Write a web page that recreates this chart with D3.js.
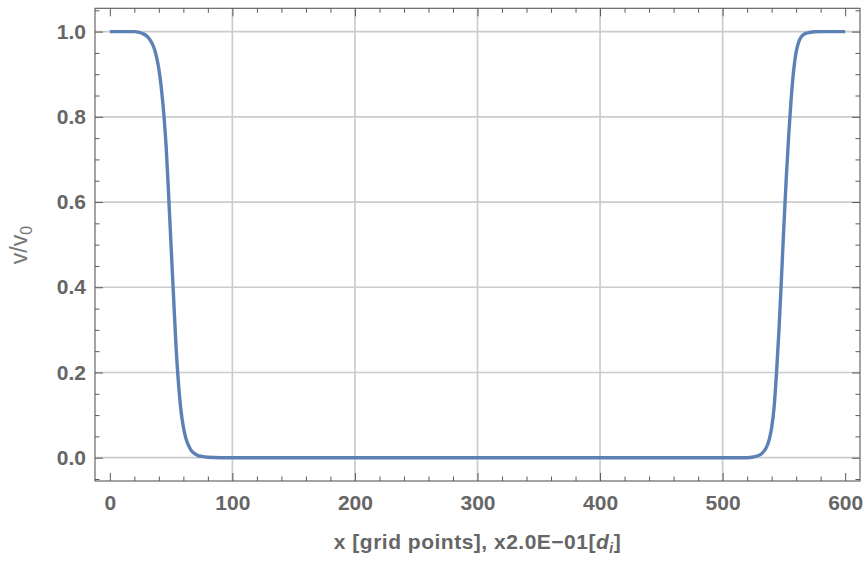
<!DOCTYPE html>
<html><head><meta charset="utf-8">
<script src="https://cdn.jsdelivr.net/npm/d3@7"></script>
<style>body{margin:0;background:#fff}svg{display:block}</style>
</head><body>
<script>
// Data
const xValues = [0,10,20,24,27,30,32,34,36,38,40,42,44,46,48,50,52,54,56,58,60,62,64,66,68,70,72,75,80,90,100,200,300,400,500,515,520,524,527,530,532,534,536,538,540,542,544,546,548,550,552,554,556,558,560,562,564,566,568,571,575,580,590,600];
const vValues = [1,1,1,0.998,0.995,0.99,0.984,0.975,0.962,0.942,0.912,0.868,0.808,0.728,0.615,0.495,0.378,0.262,0.175,0.112,0.072,0.046,0.030,0.019,0.012,0.008,0.005,0.003,0.001,0,0,0,0,0,0,0,0,0.001,0.003,0.006,0.010,0.016,0.026,0.042,0.070,0.118,0.200,0.300,0.420,0.545,0.660,0.760,0.845,0.910,0.952,0.975,0.987,0.993,0.996,0.998,0.9995,1,1,1];
const xMajorTicks = [0,100,200,300,400,500,600];
const xMinorTicks = [20,40,60,80,120,140,160,180,220,240,260,280,320,340,360,380,420,440,460,480,520,540,560,580];
const xGrid = [100,200,300,400,500];
const yMajorTicks = [0,0.2,0.4,0.6,0.8,1.0];
const yMinorTicks = [-0.05,0.05,0.1,0.15,0.25,0.3,0.35,0.45,0.5,0.55,0.65,0.7,0.75,0.85,0.9,0.95,1.05];
const yGrid = [0,0.2,0.4,0.6,0.8,1.0];

const W=866,H=566;
const L=95,R=860,T=8.3,B=481;
const x=d3.scaleLinear().domain([-12.1,612.1]).range([L,R]);
const y=d3.scaleLinear().domain([-0.0547,1.0547]).range([B,T]);

const svg=d3.select("body").append("svg").attr("width",W).attr("height",H);
const frameColor="#5a5a5a", labelColor="#666666";

// grid
svg.append("g").selectAll("line").data(xGrid).join("line")
  .attr("x1",d=>x(d)).attr("x2",d=>x(d)).attr("y1",T).attr("y2",B)
  .attr("stroke","#cccccc").attr("stroke-width",1.7);
svg.append("g").selectAll("line").data(yGrid).join("line")
  .attr("x1",L).attr("x2",R).attr("y1",d=>y(d)).attr("y2",d=>y(d))
  .attr("stroke","#cccccc").attr("stroke-width",1.7);

// axes with inward ticks on all four sides
const fmtX=d3.format("d"), fmtY=d3.format(".1f");
function styleAxis(g){
  g.select(".domain").remove();
  g.selectAll(".tick line").attr("stroke",frameColor).attr("stroke-width",1);
  g.selectAll("text").attr("fill",labelColor).attr("font-family","Liberation Sans, Arial, sans-serif")
   .attr("font-weight","bold").attr("font-size","21px");
}
// bottom
svg.append("g").attr("transform",`translate(0,${B})`)
  .call(d3.axisBottom(x).tickValues(xMajorTicks).tickSize(-8).tickPadding(14).tickFormat(fmtX)).call(styleAxis);
svg.append("g").attr("transform",`translate(0,${B})`)
  .call(d3.axisBottom(x).tickValues(xMinorTicks).tickSize(-4.5).tickFormat("")).call(styleAxis);
// top
svg.append("g").attr("transform",`translate(0,${T})`)
  .call(d3.axisTop(x).tickValues(xMajorTicks).tickSize(-8).tickFormat("")).call(styleAxis);
svg.append("g").attr("transform",`translate(0,${T})`)
  .call(d3.axisTop(x).tickValues(xMinorTicks).tickSize(-4.5).tickFormat("")).call(styleAxis);
// left
svg.append("g").attr("transform",`translate(${L},0)`)
  .call(d3.axisLeft(y).tickValues(yMajorTicks).tickSize(-8).tickPadding(9).tickFormat(fmtY)).call(styleAxis);
svg.append("g").attr("transform",`translate(${L},0)`)
  .call(d3.axisLeft(y).tickValues(yMinorTicks).tickSize(-4.5).tickFormat("")).call(styleAxis);
// right
svg.append("g").attr("transform",`translate(${R},0)`)
  .call(d3.axisRight(y).tickValues(yMajorTicks).tickSize(-8).tickFormat("")).call(styleAxis);
svg.append("g").attr("transform",`translate(${R},0)`)
  .call(d3.axisRight(y).tickValues(yMinorTicks).tickSize(-4.5).tickFormat("")).call(styleAxis);

// frame
svg.append("rect").attr("x",L).attr("y",T).attr("width",R-L).attr("height",B-T)
  .attr("fill","none").attr("stroke",frameColor).attr("stroke-width",1.1);

// curve
const pts=xValues.map((d,i)=>[d,vValues[i]]);
svg.append("path").datum(pts)
  .attr("d",d3.line().x(d=>x(d[0])).y(d=>y(d[1])).curve(d3.curveMonotoneX))
  .attr("fill","none").attr("stroke","#5e81b5").attr("stroke-width",3.4)
  .attr("stroke-linejoin","round").attr("stroke-linecap","butt");

// x label
const xl=svg.append("text").attr("x",(L+R)/2).attr("y",549).attr("text-anchor","middle")
  .attr("fill",labelColor).attr("font-family","Liberation Sans, Arial, sans-serif")
  .attr("font-weight","bold").attr("font-size","21px").attr("letter-spacing","0.5px");
xl.append("tspan").text("x [grid points], x2.0E\u221201[");
xl.append("tspan").attr("font-style","italic").text("d");
xl.append("tspan").attr("font-style","italic").attr("font-size","14px").attr("dy",4).text("i");
xl.append("tspan").attr("dy",-4).text("]");

// y label
const yl=svg.append("text").attr("transform","translate(27,245) rotate(-90)").attr("text-anchor","middle")
  .attr("fill","#777777").attr("font-family","Liberation Sans, Arial, sans-serif").attr("font-size","23px");
yl.append("tspan").text("v/v");
yl.append("tspan").attr("font-size","16px").attr("dy",5).text("0");
</script>
</body></html>
